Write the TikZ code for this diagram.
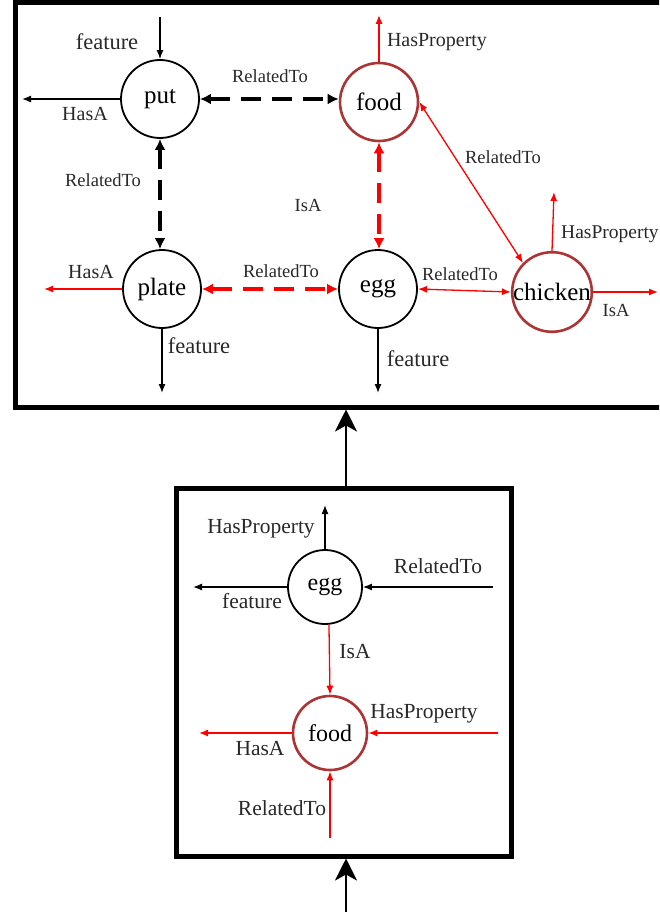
\documentclass[tikz,border=0pt]{standalone}
\usepackage{fontspec}
\setmainfont{Liberation Serif}
\usetikzlibrary{arrows.meta}
\definecolor{edgered}{RGB}{255,0,0}
\definecolor{nodered}{RGB}{172,52,52}
\definecolor{labelgray}{RGB}{40,40,40}
\begin{document}
\begin{tikzpicture}[x=1pt,y=-1pt,
  concept/.style={circle, draw=black, line width=1.8pt, minimum size=78pt, inner sep=0pt,
    font=\fontsize{25}{25}\selectfont},
  hot/.style={concept, draw=nodered, line width=2.6pt},
  smallconcept/.style={concept, minimum size=74pt, font=\fontsize{24}{24}\selectfont},
  smallhot/.style={hot, minimum size=74pt, font=\fontsize{24}{24}\selectfont},
  lbl/.style={font=\fontsize{20}{20}\selectfont, text=labelgray, inner sep=0pt},
  rlbl/.style={lbl, font=\fontsize{18.5}{18.5}\selectfont},
  flbl/.style={lbl, font=\fontsize{22.5}{22.5}\selectfont},
  biglbl/.style={lbl, font=\fontsize{21.5}{21.5}\selectfont},
  link/.style={line width=1.3pt, -{Latex[length=9pt,width=7pt]}},
  redlink/.style={link, draw=edgered, color=edgered},
  bilink/.style={line width=1.3pt, draw=edgered, color=edgered,
    {Latex[length=9pt,width=7pt]}-{Latex[length=9pt,width=7pt]}},
  dlink/.style={line width=3.6pt, dash pattern=on 20pt off 11pt,
    {Latex[length=11pt,width=11pt]}-{Latex[length=11pt,width=11pt]}},
  reddlink/.style={dlink, draw=edgered, color=edgered},
  frame/.style={draw=black, line width=5pt, inner sep=0pt},
  bigarrow/.style={line width=2.6pt, -{Stealth[length=22pt,width=22pt,inset=6pt]}}
]
\useasboundingbox (0,0) rectangle (659,912);
\clip (0,0) rectangle (659,912);

% frames
\node[frame, minimum width=649.5pt, minimum height=404pt] (topbox) at (340.25,205) {};
\node[frame, minimum width=335pt, minimum height=368pt] (botbox) at (343.5,672) {};

% arrows between the stages
\coordinate (src) at (346,912);
\draw[bigarrow] (src) -- (src |- botbox.south);
\draw[bigarrow] ([xshift=2.5pt]botbox.north) -- ([xshift=2.5pt]botbox.north |- topbox.south);

% ---------- upper graph ----------
\node[concept] (put) at (160,99) {put};
\node[hot] (food) at (379,102) {food};
\node[concept] (plate) at (162,289) {plate};
\node[concept] (egg) at (378,289) {egg};
\node[hot] (chicken) at (552,292) {chicken};

\coordinate (putIn) at (160,17);
\coordinate (putHasA) at (22,99);
\coordinate (foodProp) at (379,15);
\coordinate (chickProp) at (554,192);
\coordinate (chickIsA) at (658,292);
\coordinate (plateHasA) at (44,289);
\coordinate (plateFeat) at (162,393);
\coordinate (eggFeat) at (378,393);

\draw[link] (putIn) -- (put);
\draw[link] (put.west) -- (putHasA);
\draw[dlink] (put.east) -- (food.west |- put.east);
\draw[dlink] (put.south) -- (plate.north -| put.south);
\draw[redlink] (food.north) -- (foodProp);
\draw[reddlink] (food.south) -- (egg.north -| food.south);
\draw[bilink] (food.east) -- (chicken.north west);
\draw[redlink] (chicken.north) -- (chickProp);
\draw[redlink] (chicken.east) -- (chickIsA);
\draw[bilink] (egg.east) -- (chicken.west);
\draw[reddlink] (plate.east) -- (egg.west);
\draw[redlink] (plate.west) -- (plateHasA);
\draw[link] (plate.south) -- (plateFeat);
\draw[link] (egg.south) -- (eggFeat);

\node[flbl] (l1) at (107,42) {feature};
\node[lbl] (l2) at (85,114) {HasA};
\node[rlbl] (l3) at (270,76) {RelatedTo};
\node[rlbl] (l4) at (103,180) {RelatedTo};
\node[lbl] (l5) at (437,42) {HasProperty};
\node[rlbl] (l6) at (308,205) {IsA};
\node[rlbl] (l7) at (503,157) {RelatedTo};
\node[lbl, font=\fontsize{19.5}{19.5}\selectfont, anchor=west] (l8) at (561,234) {HasProperty};
\node[rlbl] (l9) at (460,274) {RelatedTo};
\node[rlbl] (l10) at (616,310) {IsA};
\node[flbl] (l11) at (418,359) {feature};
\node[lbl] (l12) at (91,272) {HasA};
\node[rlbl] (l13) at (281,271) {RelatedTo};
\node[flbl] (l14) at (199,346) {feature};

% ---------- lower graph ----------
\node[smallconcept] (egg2) at (325,587) {egg};
\node[smallhot] (food2) at (330,733) {food};

\coordinate (egg2Prop) at (325,505);
\coordinate (egg2Feat) at (193,587);
\coordinate (egg2Rel) at (493,587);
\coordinate (food2HasA) at (199,733);
\coordinate (food2Prop) at (498,733);
\coordinate (food2Rel) at (330,838);

\draw[link] (egg2.north) -- (egg2Prop);
\draw[link] (egg2.west) -- (egg2Feat);
\draw[link] (egg2Rel) -- (egg2.east);
\draw[redlink] (egg2.-84) -- (food2.north);
\draw[redlink] (food2.west) -- (food2HasA);
\draw[redlink] (food2Prop) -- (food2.east);
\draw[redlink] (food2Rel) -- (food2.south);

\node[biglbl] (m1) at (261,529) {HasProperty};
\node[biglbl] (m2) at (438,566) {RelatedTo};
\node[biglbl] (m3) at (252,601) {feature};
\node[biglbl] (m4) at (355,652) {IsA};
\node[biglbl] (m5) at (424,714) {HasProperty};
\node[biglbl] (m6) at (260,748) {HasA};
\node[biglbl] (m7) at (282,808) {RelatedTo};
\end{tikzpicture}
\end{document}
